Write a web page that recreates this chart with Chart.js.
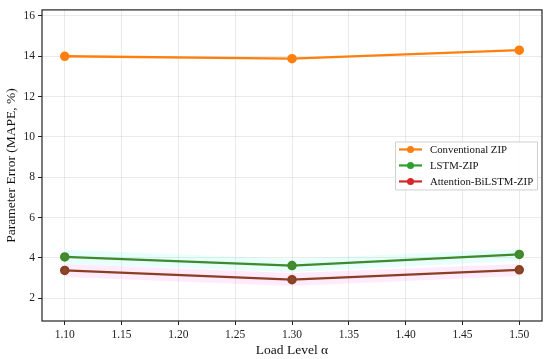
<!DOCTYPE html>
<html>
<head>
<meta charset="utf-8">
<script src="https://cdn.jsdelivr.net/npm/chart.js@4.4.0/dist/chart.umd.min.js"></script>
<style>
  html, body { margin: 0; padding: 0; background: #fff; }
  #wrap { width: 550px; height: 359px; }
</style>
</head>
<body>
<div id="wrap"><canvas id="chart" width="550" height="359"></canvas></div>
<script>
const loadLevels = [1.10, 1.30, 1.50];
const conventionalZip = [14.0, 13.88, 14.3];
const lstmZip = [4.05, 3.62, 4.17];
const attentionZip = [3.38, 2.92, 3.41];
// faint shaded bands around the two model lines
const lstmUpper = [4.4, 3.95, 4.45];
const lstmLower = [3.7, 3.3, 3.85];
const attnUpper = [3.7, 3.25, 3.7];
const attnLower = [3.05, 2.6, 3.1];
const xTicks = [1.10, 1.15, 1.20, 1.25, 1.30, 1.35, 1.40, 1.45, 1.50];
const yTicks = [2, 4, 6, 8, 10, 12, 14, 16];

const FONT = '"Liberation Serif", "DejaVu Serif", serif';

function pts(ys) {
  return loadLevels.map((x, i) => ({ x: x, y: ys[i] }));
}

function band(ys, fillColor, fillTo) {
  return {
    label: '_band',
    data: pts(ys),
    borderWidth: 0,
    pointRadius: 0,
    backgroundColor: fillColor,
    fill: fillTo,
    order: 10,
  };
}

const legendItems = [
  { text: 'Conventional ZIP', color: '#ff7f0e' },
  { text: 'LSTM-ZIP', color: '#2ca02c' },
  { text: 'Attention-BiLSTM-ZIP', color: '#d62728' },
];

const framePlugin = {
  id: 'frame',
  afterDraw(chart) {
    const ctx = chart.ctx;
    const a = chart.chartArea;
    ctx.save();
    ctx.strokeStyle = '#222';
    ctx.lineWidth = 1.2;
    ctx.strokeRect(a.left, a.top, a.right - a.left, a.bottom - a.top);

    // legend, matplotlib "center right" style
    const w = 142, h = 48;
    const lx = a.right - 5 - w;
    const ly = (a.top + a.bottom) / 2 - h / 2;
    ctx.fillStyle = 'rgba(255,255,255,0.85)';
    ctx.strokeStyle = '#d0d0d0';
    ctx.lineWidth = 1;
    ctx.beginPath();
    ctx.rect(lx + 0.5, ly + 0.5, w, h);
    ctx.fill();
    ctx.stroke();
    ctx.font = '10.8px ' + FONT;
    ctx.textBaseline = 'middle';
    legendItems.forEach((it, i) => {
      const cy = ly + 8 + i * 16;
      ctx.strokeStyle = it.color;
      ctx.lineWidth = 2.2;
      ctx.beginPath();
      ctx.moveTo(lx + 4, cy);
      ctx.lineTo(lx + 27, cy);
      ctx.stroke();
      ctx.fillStyle = it.color;
      ctx.beginPath();
      ctx.arc(lx + 15.5, cy, 3.5, 0, Math.PI * 2);
      ctx.fill();
      ctx.fillStyle = '#111';
      ctx.fillText(it.text, lx + 35, cy + 0.5);
    });
    ctx.restore();
  }
};

const ctx = document.getElementById('chart').getContext('2d');

const config = {
  type: 'line',
  data: {
    datasets: [
      band(lstmUpper, 'rgba(0, 255, 210, 0.09)', '+1'),
      band(lstmLower, 'rgba(0, 255, 210, 0.09)', false),
      band(attnUpper, 'rgba(255, 0, 200, 0.08)', '+1'),
      band(attnLower, 'rgba(255, 0, 200, 0.08)', false),
      {
        label: 'Conventional ZIP',
        data: pts(conventionalZip),
        borderColor: '#ff7f0e',
        backgroundColor: '#ff7f0e',
        borderWidth: 2.3,
        pointRadius: 3.6,
        fill: false,
        order: 1,
      },
      {
        label: 'LSTM-ZIP',
        data: pts(lstmZip),
        borderColor: '#3f8a2c',
        backgroundColor: '#4a8a30',
        borderWidth: 2.3,
        pointRadius: 3.6,
        fill: false,
        order: 2,
      },
      {
        label: 'Attention-BiLSTM-ZIP',
        data: pts(attentionZip),
        borderColor: '#8a3f22',
        backgroundColor: '#8a4a2a',
        borderWidth: 2.3,
        pointRadius: 3.6,
        fill: false,
        order: 3,
      },
    ],
  },
  options: {
    responsive: false,
    animation: false,
    layout: { padding: { top: 8, right: 8, left: 3, bottom: 0 } },
    plugins: {
      legend: { display: false },
      tooltip: { enabled: false },
    },
    scales: {
      x: {
        type: 'linear',
        min: 1.08,
        max: 1.52,
        afterBuildTicks(axis) {
          axis.ticks = xTicks.map(v => ({ value: v }));
        },
        afterFit(axis) { axis.height = 38; },
        ticks: {
          color: '#222',
          font: { family: FONT, size: 11.5 },
          padding: 3,
          maxRotation: 0,
          callback: v => v.toFixed(2),
        },
        grid: {
          color: 'rgba(0,0,0,0.08)',
          tickColor: '#222',
          tickLength: 4,
        },
        border: { display: false },
        title: {
          display: true,
          text: 'Load Level α',
          color: '#111',
          font: { family: FONT, size: 13.5 },
          padding: { top: 2, bottom: 0 },
        },
      },
      y: {
        type: 'linear',
        min: 0.87,
        max: 16.3,
        afterBuildTicks(axis) {
          axis.ticks = yTicks.map(v => ({ value: v }));
        },
        afterFit(axis) { axis.width = 39; },
        ticks: {
          color: '#222',
          font: { family: FONT, size: 11.5 },
          padding: 3,
        },
        grid: {
          color: 'rgba(0,0,0,0.08)',
          tickColor: '#222',
          tickLength: 4,
        },
        border: { display: false },
        title: {
          display: true,
          text: 'Parameter Error (MAPE, %)',
          color: '#111',
          font: { family: FONT, size: 13.5 },
          padding: { top: 0, bottom: 2 },
        },
      },
    },
  },
  plugins: [framePlugin],
};

new Chart(ctx, config);
</script>
</body>
</html>
